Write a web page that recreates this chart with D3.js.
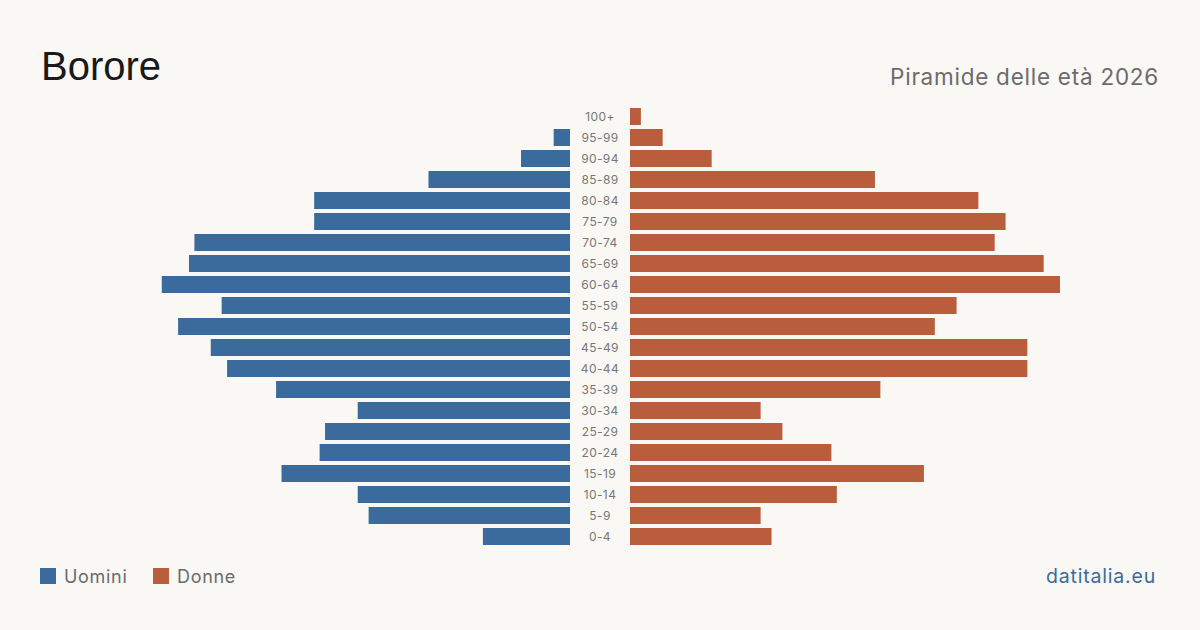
<!DOCTYPE html>
<html>
<head>
<meta charset="utf-8">
<script src="https://cdn.jsdelivr.net/npm/d3@7"></script>
<style>
  html, body { margin: 0; padding: 0; background: #f9f8f4; }
  svg { display: block; }
</style>
</head>
<body>
<div id="chart"></div>
<script>
// age groups, top to bottom
const ageGroups = ["100+", "95-99", "90-94", "85-89", "80-84", "75-79", "70-74", "65-69", "60-64", "55-59",
    "50-54", "45-49", "40-44", "35-39", "30-34", "25-29", "20-24", "15-19", "10-14", "5-9", "0-4"];
const men =   [0, 3, 9, 26, 47, 47, 69, 70, 75, 64, 72, 66, 63, 54, 39, 45, 46, 53, 39, 37, 16];
const women = [2, 6, 15, 45, 64, 69, 67, 76, 79, 60, 56, 73, 73, 46, 24, 28, 37, 54, 38, 24, 26];
const legendLabels = ["Uomini", "Donne"];

const width = 1200, height = 630;
const blue = "#3b6a9c", orange = "#b95d3c";
const centerLeft = 570, centerRight = 630;
const font = "Inter, 'Liberation Sans', sans-serif";

const svg = d3.select("#chart").append("svg")
    .attr("width", width)
    .attr("height", height);

svg.append("rect").attr("width", width).attr("height", height).attr("fill", "#f9f8f4");

const y = d3.scaleBand()
    .domain(ageGroups)
    .range([106, 547])
    .paddingInner(0.19)
    .paddingOuter(0.095);

const x = d3.scaleLinear()
    .domain([0, d3.max(men.concat(women))])
    .range([0, 430]);

const rows = ageGroups.map((g, i) => ({ group: g, men: men[i], women: women[i] }));

// men bars (left)
svg.append("g").selectAll("rect")
    .data(rows)
    .join("rect")
    .attr("x", d => centerLeft - x(d.men))
    .attr("y", d => y(d.group))
    .attr("width", d => x(d.men))
    .attr("height", y.bandwidth())
    .attr("fill", blue);

// women bars (right)
svg.append("g").selectAll("rect")
    .data(rows)
    .join("rect")
    .attr("x", centerRight)
    .attr("y", d => y(d.group))
    .attr("width", d => x(d.women))
    .attr("height", y.bandwidth())
    .attr("fill", orange);

// age labels in the middle
svg.append("g").selectAll("text")
    .data(ageGroups)
    .join("text")
    .attr("x", 600)
    .attr("y", d => y(d) + y.bandwidth() / 2)
    .attr("dy", "0.35em")
    .attr("text-anchor", "middle")
    .attr("font-family", font)
    .attr("font-size", 12)
    .attr("letter-spacing", 0.4)
    .attr("fill", "#777")
    .text(d => d);

// title + subtitle
svg.append("text")
    .attr("x", 41).attr("y", 80)
    .attr("font-family", "'Liberation Sans', Arial, sans-serif")
    .attr("font-size", 40)
    .attr("fill", "#1a1a1a")
    .text("Borore");

svg.append("text")
    .attr("x", 1159).attr("y", 85)
    .attr("text-anchor", "end")
    .attr("font-family", font)
    .attr("font-size", 22.5)
    .attr("letter-spacing", 0.75)
    .attr("fill", "#6b6b6b")
    .text("Piramide delle età 2026");

// legend
const legend = svg.append("g").attr("transform", "translate(40,568)");
const legendX = [0, 113];
legendLabels.forEach((lab, i) => {
    legend.append("rect")
        .attr("x", legendX[i]).attr("y", 0)
        .attr("width", 16).attr("height", 16)
        .attr("fill", i === 0 ? blue : orange);
    legend.append("text")
        .attr("x", legendX[i] + 24).attr("y", 15)
        .attr("font-family", font)
        .attr("font-size", 18)
        .attr("letter-spacing", 0.7)
        .attr("fill", "#6b6b6b")
        .text(lab);
});

svg.append("text")
    .attr("x", 1156).attr("y", 583)
    .attr("text-anchor", "end")
    .attr("font-family", font)
    .attr("font-size", 19.5)
    .attr("letter-spacing", 0.8)
    .attr("fill", blue)
    .text("datitalia.eu");
</script>
</body>
</html>
